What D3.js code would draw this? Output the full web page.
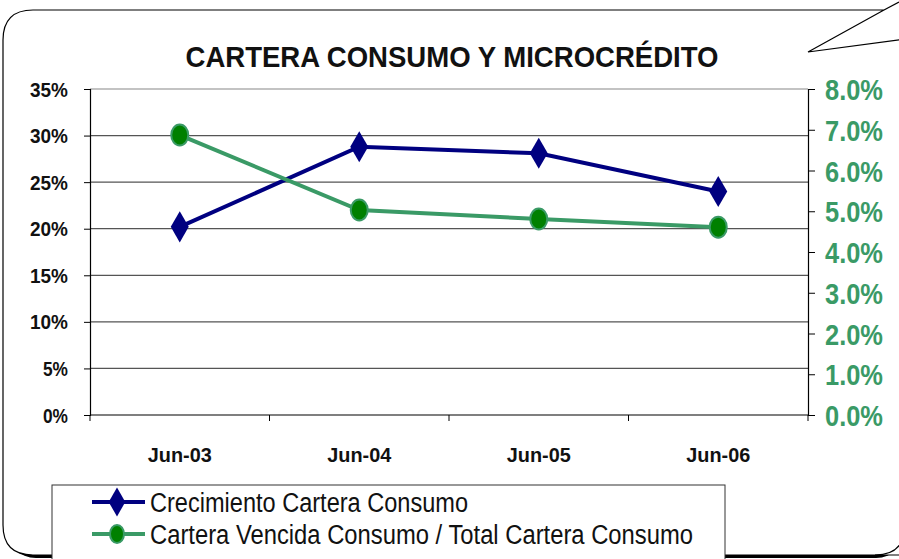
<!DOCTYPE html>
<html>
<head>
<meta charset="utf-8">
<script src="https://cdn.jsdelivr.net/npm/d3@7"></script>
<style>
  body { margin: 0; background: #fff; }
  svg { display: block; }
  text { font-family: "Liberation Sans Narrow", "Arial Narrow", "Liberation Sans", Arial, sans-serif; }
</style>
</head>
<body>
<div id="chart"></div>
<script>
// data
const categories = ["Jun-03", "Jun-04", "Jun-05", "Jun-06"];
const crecimiento = [20.2, 28.8, 28.1, 24.0];      // left axis, %
const vencida = [6.87, 5.03, 4.81, 4.61];          // right axis, %
const leftTicks = [0, 5, 10, 15, 20, 25, 30, 35];
const rightTicks = [0, 1, 2, 3, 4, 5, 6, 7, 8];
const seriesNames = ["Crecimiento Cartera Consumo", "Cartera Vencida Consumo / Total Cartera Consumo"];

const W = 899, H = 559;
const margin = {top: 89, right: 91, bottom: 144, left: 90};
const green = "#3a9a66";

const svg = d3.select("#chart").append("svg")
    .attr("width", W)
    .attr("height", H);

// frame: shadow first (lower part only), then white box with the callout tail
svg.append("rect")
    .attr("x", 6).attr("y", 120)
    .attr("width", 900).attr("height", 438)
    .attr("rx", 30).attr("ry", 30)
    .attr("fill", "#000");
const frame = "M 3,40 Q 3,10 33,10 L 884,10 L 808,52 L 905,39 L 905,555 L 33,555 Q 3,555 3,525 Z";
svg.append("path").attr("d", frame)
    .attr("fill", "#fff")
    .attr("stroke", "#000")
    .attr("stroke-width", 1.2);
svg.append("path")
    .attr("d", "M 884,10 L 899,2")
    .attr("stroke", "#000").attr("stroke-width", 1.2);
// rounded bottom-right corner (mostly off canvas)
svg.append("path")
    .attr("d", "M 905,525 Q 905,555 875,555")
    .attr("fill", "none")
    .attr("stroke", "#000").attr("stroke-width", 1.2);

const x = d3.scaleBand()
    .domain(categories)
    .range([margin.left, W - margin.right]);

const yL = d3.scaleLinear()
    .domain([0, 35])
    .range([H - margin.bottom, margin.top]);

const yR = d3.scaleLinear()
    .domain([0, 8])
    .range([H - margin.bottom, margin.top]);

// gridlines
svg.append("g")
  .selectAll("line")
  .data(leftTicks.filter(d => d > 0))
  .join("line")
    .attr("x1", margin.left)
    .attr("x2", W - margin.right)
    .attr("y1", d => yL(d))
    .attr("y2", d => yL(d))
    .attr("stroke", d => d === 35 ? "#888" : "#555")
    .attr("stroke-width", 1.2);

// left axis
const gL = svg.append("g")
    .attr("transform", `translate(${margin.left},0)`)
    .call(d3.axisLeft(yL).tickValues(leftTicks).tickFormat(d => d + "%").tickSize(6).tickPadding(16));
gL.select(".domain").attr("stroke", "#000").attr("stroke-width", 1.2);
gL.selectAll(".tick line").attr("stroke", "#000");
gL.selectAll(".tick text")
    .attr("font-size", 20)
    .attr("font-weight", "bold")
    .attr("fill", "#111")
    .attr("dy", "0.35em")
    .attr("textLength", d => String(d).length * 13 + 12)
    .attr("lengthAdjust", "spacingAndGlyphs");

// right axis
const gR = svg.append("g")
    .attr("transform", `translate(${W - margin.right},0)`)
    .call(d3.axisRight(yR).tickValues(rightTicks).tickFormat(d => d.toFixed(1) + "%").tickSize(7).tickPadding(10));
gR.select(".domain").attr("stroke", "#000").attr("stroke-width", 1.2);
gR.selectAll(".tick line").attr("stroke", "#000");
gR.selectAll(".tick text")
    .attr("font-size", 30)
    .attr("font-weight", "bold")
    .attr("fill", green)
    .attr("dy", "0.35em")
    .attr("textLength", 58)
    .attr("lengthAdjust", "spacingAndGlyphs");

// bottom axis with ticks at band boundaries
const gX = svg.append("g")
    .attr("transform", `translate(0,${H - margin.bottom})`);
gX.append("line")
    .attr("x1", margin.left).attr("x2", W - margin.right)
    .attr("stroke", "#000").attr("stroke-width", 1.2);
const bounds = categories.map(c => x(c)).concat([x.range()[1]]);
gX.selectAll(".bt")
  .data(bounds)
  .join("line")
    .attr("class", "bt")
    .attr("x1", d => d).attr("x2", d => d)
    .attr("y1", 0).attr("y2", 6)
    .attr("stroke", "#000");
gX.selectAll(".xl")
  .data(categories)
  .join("text")
    .attr("class", "xl")
    .attr("x", d => x(d) + x.bandwidth() / 2)
    .attr("y", 47)
    .attr("text-anchor", "middle")
    .attr("font-size", 21)
    .attr("font-weight", "bold")
    .attr("fill", "#111")
    .attr("textLength", 64)
    .attr("lengthAdjust", "spacingAndGlyphs")
    .text(d => d);

const cx = d => x(d) + x.bandwidth() / 2;

// blue series
const lineL = d3.line().x((d, i) => cx(categories[i])).y(d => yL(d));
svg.append("path")
    .datum(crecimiento)
    .attr("d", lineL)
    .attr("fill", "none")
    .attr("stroke", "#000080")
    .attr("stroke-width", 4);

// green series
const lineR = d3.line().x((d, i) => cx(categories[i])).y(d => yR(d));
svg.append("path")
    .datum(vencida)
    .attr("d", lineR)
    .attr("fill", "none")
    .attr("stroke", green)
    .attr("stroke-width", 4);

svg.append("g")
  .selectAll("path")
  .data(crecimiento)
  .join("path")
    .attr("transform", (d, i) => `translate(${cx(categories[i])},${yL(d)})`)
    .attr("d", d3.symbol().type(d3.symbolDiamond).size(280))
    .attr("fill", "#000080");

svg.append("g")
  .selectAll("ellipse")
  .data(vencida)
  .join("ellipse")
    .attr("cx", (d, i) => cx(categories[i]))
    .attr("cy", d => yR(d))
    .attr("rx", 8.5)
    .attr("ry", 10.5)
    .attr("fill", "#008000")
    .attr("stroke", green)
    .attr("stroke-width", 2);

// title
svg.append("text")
    .attr("x", 452)
    .attr("y", 67)
    .attr("text-anchor", "middle")
    .attr("font-size", 30)
    .attr("font-weight", "bold")
    .attr("fill", "#111")
    .attr("textLength", 533)
    .attr("lengthAdjust", "spacingAndGlyphs")
    .text("CARTERA CONSUMO Y MICROCRÉDITO");

// legend
const lg = svg.append("g");
lg.append("rect")
    .attr("x", 52).attr("y", 485)
    .attr("width", 673).attr("height", 80)
    .attr("fill", "#fff")
    .attr("stroke", "#333")
    .attr("stroke-width", 1);

const lgRows = [
  {name: seriesNames[0], color: "#000080", y: 502},
  {name: seriesNames[1], color: green, y: 534}
];
const row = lg.selectAll(".row")
  .data(lgRows)
  .join("g")
    .attr("class", "row")
    .attr("transform", d => `translate(0,${d.y})`);
row.append("line")
    .attr("x1", 92).attr("x2", 145)
    .attr("stroke", d => d.color)
    .attr("stroke-width", 4);
row.filter((d, i) => i === 0).append("path")
    .attr("transform", "translate(117,0)")
    .attr("d", d3.symbol().type(d3.symbolDiamond).size(240))
    .attr("fill", "#000080");
row.filter((d, i) => i === 1).append("ellipse")
    .attr("cx", 117).attr("rx", 7).attr("ry", 9)
    .attr("fill", "#008000")
    .attr("stroke", green)
    .attr("stroke-width", 2);
row.append("text")
    .attr("x", 150)
    .attr("dy", "0.36em")
    .attr("font-size", 27)
    .attr("fill", "#111")
    .attr("textLength", (d, i) => i === 0 ? 318 : 543)
    .attr("lengthAdjust", "spacingAndGlyphs")
    .text(d => d.name);
</script>
</body>
</html>
